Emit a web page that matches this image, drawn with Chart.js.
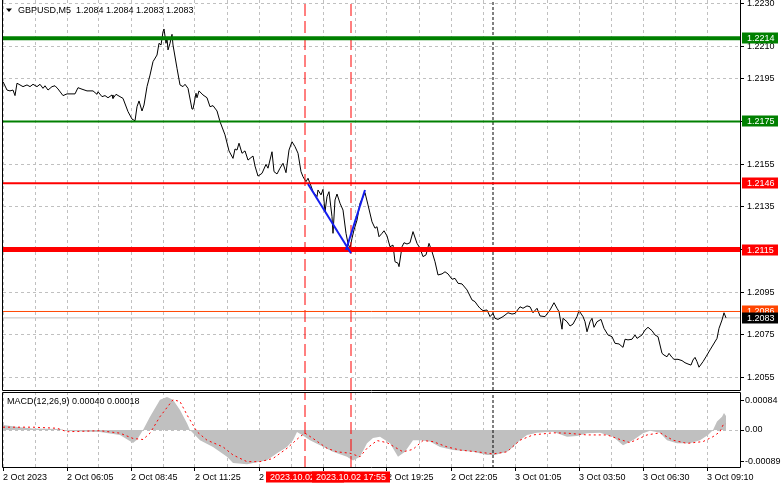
<!DOCTYPE html>
<html>
<head>
<meta charset="utf-8">
<script src="https://cdn.jsdelivr.net/npm/chart.js@4.4.0/dist/chart.umd.min.js"></script>
<style>
  body { margin: 0; background: #fff; }
  #wrap { position: relative; width: 781px; height: 489px; background: #fff; }
  canvas { position: absolute; left: 0; }
  #priceChart { top: 0; }
  #macdChart { top: 391px; }
</style>
</head>
<body>
<div id="wrap">
  <canvas id="priceChart" width="781" height="391"></canvas>
  <canvas id="macdChart" width="781" height="98"></canvas>
</div>
<script>
// GBPUSD M5, bar index from the left edge of the chart (2 Oct 2023 ...)
const priceBars = [
  0, 2, 3.5, 5, 6, 7, 8.5, 10, 12, 13.5,
  15, 17, 18.5, 20, 21, 22.5, 24.5, 26, 27.5, 30,
  32, 36, 37.5, 39.5, 42, 45, 47, 47.5, 49.5, 51,
  52.5, 54.5, 55, 56.5, 58.5, 60, 62.5, 64.5, 66, 67,
  68, 69.5, 70.5, 72, 73.5, 75, 77, 78, 79, 80,
  80.5, 81.5, 82, 82.5, 83.5, 84.5, 85, 87, 88.5, 90,
  91, 92.5, 94.5, 95, 96.5, 97, 98, 100, 102, 103.5,
  105, 107, 108.5, 111, 113, 115, 116, 117, 118, 119.5,
  121, 122.5, 123.5, 125, 126, 127.5, 129.5, 131.5, 132.5, 134.5,
  135.5, 137, 138.5, 140, 141.5, 143, 144.5, 146, 147.5, 149,
  150, 151.5, 152.5, 154, 155, 157, 157.5, 159, 160, 161,
  162, 163, 164.5, 165, 166, 167, 168.5, 170, 171.5, 172.5,
  173.5, 174.5, 175.5, 177, 178.5, 181, 182.5, 184.5, 186, 187,
  188, 189.5, 190.5, 192, 193.5, 195, 196, 197.5, 198, 199.5,
  200.5, 202, 203.5, 205, 207, 208.5, 210, 211.5, 213, 214.5,
  216, 217.5, 219.5, 221, 222.5, 224.5, 226, 227.5, 229.5, 232,
  234.5, 236, 237.5, 238.5, 240, 242, 243.5, 245, 246, 247.5,
  250, 252.5, 254.5, 256, 258.5, 260, 262, 263.5, 265, 267,
  268.5, 271, 273.5, 275.5, 277, 278, 279.5, 280, 282, 283.5,
  285, 287, 288, 290, 291, 292, 293.5, 294.5, 295.5, 297,
  299, 300.5, 302.5, 304.5, 306, 308, 310, 311, 312.5, 314.5,
  316, 317, 319.5, 321, 322.5, 324.5, 326, 327.5, 329.5, 330.5,
  332, 333, 334.5, 335.5, 337.5, 339.5, 341, 342.5, 344, 345,
  346, 347, 348, 350, 351.5, 353.5, 355, 357, 358, 359.5,
  360.5, 361.5
];
const priceCloses = [
  1.21936, 1.21897, 1.21893, 1.21897, 1.21871, 1.21929, 1.21921, 1.21913, 1.21921, 1.21913,
  1.21924, 1.21913, 1.21924, 1.21905, 1.21917, 1.21897, 1.21913, 1.21917, 1.21902, 1.21871,
  1.21879, 1.21879, 1.21908, 1.21901, 1.21893, 1.21893, 1.21877, 1.21889, 1.21866, 1.21871,
  1.21861, 1.21874, 1.21858, 1.21877, 1.21866, 1.21858, 1.21796, 1.21761, 1.21753, 1.21819,
  1.21846, 1.21799, 1.21827, 1.21913, 1.21967, 1.22030, 1.22061, 1.22116, 1.22108, 1.22170,
  1.22183, 1.22116, 1.22139, 1.22085, 1.22116, 1.22158, 1.22108, 1.21999, 1.21921, 1.21913,
  1.21924, 1.21905, 1.21808, 1.21808, 1.21882, 1.21861, 1.21893, 1.21874, 1.21861, 1.21819,
  1.21824, 1.21799, 1.21749, 1.21687, 1.21612, 1.21577, 1.21621, 1.21616, 1.21648, 1.21601,
  1.21612, 1.21569, 1.21577, 1.21588, 1.21541, 1.21494, 1.21507, 1.21549, 1.21531, 1.21608,
  1.21515, 1.21504, 1.21531, 1.21554, 1.21510, 1.21616, 1.21655, 1.21632, 1.21601, 1.21515,
  1.21491, 1.21468, 1.21484, 1.21448, 1.21421, 1.21398, 1.21429, 1.21406, 1.21432, 1.21327,
  1.21398, 1.21421, 1.21304, 1.21226, 1.21382, 1.21410, 1.21367, 1.21335, 1.21226, 1.21179,
  1.21156, 1.21203, 1.21242, 1.21288, 1.21367, 1.21416, 1.21359, 1.21280, 1.21250, 1.21257,
  1.21210, 1.21226, 1.21238, 1.21214, 1.21163, 1.21171, 1.21093, 1.21086, 1.21070, 1.21163,
  1.21182, 1.21176, 1.21182, 1.21234, 1.21179, 1.21156, 1.21117, 1.21125, 1.21179, 1.21140,
  1.21093, 1.21031, 1.21036, 1.21046, 1.21036, 1.21011, 1.21015, 1.20992, 1.20989, 1.20961,
  1.20914, 1.20906, 1.20886, 1.20875, 1.20864, 1.20867, 1.20836, 1.20851, 1.20828, 1.20823,
  1.20836, 1.20854, 1.20848, 1.20851, 1.20882, 1.20875, 1.20886, 1.20882, 1.20854, 1.20875,
  1.20839, 1.20836, 1.20867, 1.20901, 1.20875, 1.20859, 1.20777, 1.20828, 1.20812, 1.20792,
  1.20801, 1.20836, 1.20864, 1.20836, 1.20812, 1.20765, 1.20812, 1.20828, 1.20786, 1.20812,
  1.20823, 1.20781, 1.20750, 1.20742, 1.20711, 1.20708, 1.20692, 1.20730, 1.20727, 1.20730,
  1.20750, 1.20734, 1.20750, 1.20773, 1.20786, 1.20770, 1.20750, 1.20742, 1.20664, 1.20656,
  1.20648, 1.20664, 1.20645, 1.20636, 1.20636, 1.20630, 1.20620, 1.20614, 1.20609, 1.20633,
  1.20645, 1.20625, 1.20599, 1.20625, 1.20648, 1.20680, 1.20703, 1.20734, 1.20781, 1.20820,
  1.20854, 1.20830
];

// MACD(12,26,9): histogram (main) and signal line
const macdBars = [
  0, 8.5, 15, 28.5, 32, 48.5, 58.5, 65, 67, 70,
  73.5, 78.5, 82, 85, 88.5, 92, 93.5, 98.5, 105, 112,
  115, 122, 132, 137, 142, 145, 147, 149.5, 153.5, 158.5,
  165, 172, 175, 178.5, 182, 185, 188.5, 193.5, 197.5, 201,
  205, 208.5, 213.5, 218.5, 225, 235, 242, 246, 252, 255,
  258.5, 262, 267, 275, 282, 287, 292, 298.5, 305, 310,
  315, 320, 323.5, 328.5, 332, 337, 343.5, 348.5, 352.5, 355,
  357, 359.5, 360.5, 361.5
];
const macdValues = [
  0.00014, 0.00008, 0.00004, 0.00003, -0.00003, -0.00006, -0.00014, -0.00037, -0.00028, 0,
  0.00038, 0.00086, 0.00094, 0.00086, 0.00057, 0.00019, 0, -0.00029, -0.00048, -0.00076,
  -0.00094, -0.00097, -0.00086, -0.00066, -0.00048, -0.00029, -0.00006, -0.00014, -0.00029, -0.00043,
  -0.00062, -0.00076, -0.00087, -0.00076, -0.00038, -0.00023, -0.00019, -0.00038, -0.00076, -0.00062,
  -0.00029, -0.00029, -0.00033, -0.00048, -0.00057, -0.00062, -0.00071, -0.00071, -0.00062, -0.00048,
  -0.00029, -0.00014, -0.00008, -0.00005, -0.00019, -0.00017, -0.00009, -0.00008, -0.00019, -0.00043,
  -0.00029, -0.00009, -0.00002, -0.00008, -0.00029, -0.00038, -0.00038, -0.00029, -0.00014, 0,
  0.00024, 0.00038, 0.00048, 0.00040
];
const signalBars = [
  0, 15, 27, 32, 48.5, 58.5, 65, 70, 73.5, 78.5,
  85, 88.5, 92, 97, 102, 110, 115, 122, 128.5, 135,
  142, 148.5, 151, 155, 162, 167, 173.5, 178.5, 182, 187,
  192, 200, 205, 210, 215, 222, 228.5, 237, 245, 252,
  258.5, 265, 275, 282, 292, 302, 308.5, 313.5, 322, 328.5,
  335, 342, 350, 355, 358.5, 360, 361.5
];
const signalValues = [
  0.00008, 0.00008, 0.00005, -0.00005, -0.00002, -0.00009, -0.00024, -0.00027, -0.00009, 0.00038,
  0.00086, 0.00081, 0.00043, -0.00005, -0.00029, -0.00048, -0.00071, -0.00090, -0.00090, -0.00081,
  -0.00052, -0.00019, -0.00009, -0.00024, -0.00052, -0.00062, -0.00066, -0.00076, -0.00052, -0.00030,
  -0.00036, -0.00062, -0.00055, -0.00030, -0.00033, -0.00048, -0.00057, -0.00062, -0.00068, -0.00062,
  -0.00029, -0.00014, -0.00008, -0.00009, -0.00014, -0.00014, -0.00027, -0.00036, -0.00014, -0.00008,
  -0.00029, -0.00038, -0.00033, -0.00019, -0.00005, 0.00014, 0.00018
];

// horizontal levels, last one is the current bid
const levelPrices = [1.2214, 1.2175, 1.2146, 1.2115, 1.2086, 1.2083];
// vertical lines (bar index) and their date labels
const markerBars = [151, 174];
const markerLabels = ['2023.10.02 16:00', '2023.10.02 17:55'];
const cursorBar = 245;
// drawn trend lines
const trendBarsA = [152.5, 174];
const trendPricesA = [1.21457, 1.21133];
const trendBarsB = [171.5, 181];
const trendPricesB = [1.21148, 1.21429];

// axes
const timeLabels = ['2 Oct 2023', '2 Oct 06:05', '2 Oct 08:45', '2 Oct 11:25', '2 Oct 14:05', '2 Oct 16:45',
  '2 Oct 19:25', '2 Oct 22:05', '3 Oct 01:05', '3 Oct 03:50', '3 Oct 06:30', '3 Oct 09:10'];
const priceTicks = [1.2230, 1.2210, 1.2195, 1.2175, 1.2155, 1.2135, 1.2115, 1.2095, 1.2075, 1.2055];
const macdTicks = [0.00084, 0, -0.00089];
const headerText = 'GBPUSD,M5  1.2084 1.2084 1.2083 1.2083';
const macdHeader = 'MACD(12,26,9) 0.00040 0.00018';

const barMax = 368.5;
const priceMin = 1.204923, priceMax = 1.223187;
const macdMin = -0.00108, macdMax = 0.00108;

const levelColors = ['#008000', '#008000', '#ff0000', '#ff0000', '#ff4500', '#c0c0c0'];
const levelWidths = [4, 2, 2, 5, 1, 1];
const levelBoxColors = ['#008000', '#008000', '#ff0000', '#ff0000', '#ff4500', '#000000'];

const FONT = '"Liberation Sans", Arial, sans-serif';
Chart.defaults.font.family = FONT;
Chart.defaults.font.size = 9;
Chart.defaults.color = '#000';

const gridBars = [];
for (let b = 0; b <= 352; b += 16) gridBars.push(b);

function pts(xs, ys) {
  return xs.map((x, i) => ({ x: x, y: ys[i] }));
}
function vline(bar, lo, hi) {
  return [{ x: bar, y: lo }, { x: bar, y: hi }];
}
// scales keep the chart area exactly where the terminal has it
function noPad(s) {
  s.paddingTop = 0; s.paddingBottom = 0; s.paddingLeft = 0; s.paddingRight = 0;
}

// ---------- price chart ----------
const datasets = [];
datasets.push({
  data: pts(priceBars, priceCloses),
  borderColor: '#000', borderWidth: 1, pointRadius: 0, tension: 0, order: 5
});
levelPrices.forEach(function (p, i) {
  datasets.push({
    data: [{ x: 0, y: p }, { x: barMax, y: p }],
    borderColor: levelColors[i], borderWidth: levelWidths[i], pointRadius: 0,
    order: i == levelPrices.length - 1 ? 6 : 2
  });
});
markerBars.forEach(function (b) {
  datasets.push({
    data: vline(b, priceMin, priceMax),
    borderColor: '#ff0000', borderWidth: 1, borderDash: [12, 5], pointRadius: 0, order: 3
  });
});
datasets.push({
  data: vline(cursorBar, priceMin, priceMax),
  borderColor: '#000', borderWidth: 1, borderDash: [3, 2], pointRadius: 0, order: 3
});
datasets.push({
  data: pts(trendBarsA, trendPricesA),
  borderColor: 'rgb(20,30,240)', borderWidth: 2, pointRadius: 0, order: 0
});
datasets.push({
  data: pts(trendBarsB, trendPricesB),
  borderColor: 'rgb(20,30,240)', borderWidth: 2, pointRadius: 0, order: 0
});

const priceDecor = {
  id: 'priceDecor',
  afterDraw(chart) {
    const ctx = chart.ctx, a = chart.chartArea, y = chart.scales.y;
    ctx.save();
    ctx.strokeStyle = '#000';
    ctx.lineWidth = 1;
    ctx.beginPath();
    ctx.moveTo(a.left - 0.5, a.top);
    ctx.lineTo(a.left - 0.5, a.bottom + 0.5);
    ctx.lineTo(a.right + 0.5, a.bottom + 0.5);
    ctx.lineTo(a.right + 0.5, a.top);
    ctx.stroke();

    // header
    ctx.fillStyle = '#000';
    ctx.beginPath();
    ctx.moveTo(6, 8.5); ctx.lineTo(12, 8.5); ctx.lineTo(9, 12);
    ctx.closePath();
    ctx.fill();
    ctx.font = '9px ' + FONT;
    ctx.textBaseline = 'middle';
    ctx.textAlign = 'left';
    ctx.fillText(headerText, 18, 10.5);

    // price tags on the right axis
    levelPrices.forEach(function (p, i) {
      const py = Math.round(y.getPixelForValue(p));
      ctx.fillStyle = levelBoxColors[i];
      ctx.fillRect(a.right + 2, py - 5.5, 36, 11);
      ctx.fillStyle = '#fff';
      ctx.fillText(p.toFixed(4), a.right + 7, py + 0.5);
    });
    ctx.restore();
  }
};

new Chart(document.getElementById('priceChart'), {
  type: 'line',
  data: { datasets: datasets },
  options: {
    responsive: false,
    animation: false,
    events: [],
    layout: { padding: { left: 3, top: 0, right: 0, bottom: 0 }, autoPadding: false },
    plugins: { legend: { display: false }, tooltip: { enabled: false } },
    scales: {
      x: {
        type: 'linear', min: 0, max: barMax,
        afterBuildTicks: function (s) { s.ticks = gridBars.map(v => ({ value: v })); },
        afterFit: function (s) { s.height = 1; noPad(s); },
        ticks: { display: false },
        grid: { color: '#c0c0c0', drawTicks: false },
        border: { display: false, dash: [3, 3] }
      },
      y: {
        position: 'right', min: priceMin, max: priceMax,
        afterBuildTicks: function (s) { s.ticks = priceTicks.map(v => ({ value: v })); },
        afterFit: function (s) { s.width = 41; noPad(s); },
        ticks: { padding: 3, callback: v => v.toFixed(4), autoSkip: false },
        grid: { color: '#c0c0c0', tickLength: 4, tickColor: '#000' },
        border: { display: false, dash: [3, 3] }
      }
    }
  },
  plugins: [priceDecor]
});

// ---------- MACD chart ----------
const macdSets = [
  {
    data: pts(macdBars, macdValues),
    borderWidth: 0, borderColor: 'rgba(0,0,0,0)', backgroundColor: '#c0c0c0',
    fill: 'origin', pointRadius: 0, tension: 0, order: 5
  },
  {
    data: pts(signalBars, signalValues),
    borderColor: '#ff0000', borderWidth: 1, borderDash: [2, 3], pointRadius: 0, tension: 0, order: 1
  }
];
markerBars.forEach(function (b) {
  macdSets.push({
    data: vline(b, macdMin, macdMax),
    borderColor: '#ff0000', borderWidth: 1, borderDash: [12, 5], pointRadius: 0, order: 2
  });
});
macdSets.push({
  data: vline(cursorBar, macdMin, macdMax),
  borderColor: '#000', borderWidth: 1, borderDash: [3, 2], pointRadius: 0, order: 2
});

const macdDecor = {
  id: 'macdDecor',
  afterDraw(chart) {
    const ctx = chart.ctx, a = chart.chartArea, x = chart.scales.x;
    ctx.save();
    ctx.strokeStyle = '#000';
    ctx.lineWidth = 1;
    ctx.beginPath();
    ctx.moveTo(a.left - 0.5, a.top + 0.5);
    ctx.lineTo(a.right + 0.5, a.top + 0.5);
    ctx.lineTo(a.right + 0.5, a.bottom - 0.5);
    ctx.lineTo(a.left - 0.5, a.bottom - 0.5);
    ctx.closePath();
    ctx.stroke();

    ctx.font = '9px ' + FONT;
    ctx.textBaseline = 'middle';
    ctx.textAlign = 'left';
    ctx.fillStyle = '#000';
    ctx.fillText(macdHeader, 7, 10.5);

    // date tags of the vertical lines
    ctx.textAlign = 'center';
    markerBars.forEach(function (b, i) {
      const px = Math.round(x.getPixelForValue(b));
      const w = Math.ceil(ctx.measureText(markerLabels[i]).width) + 7;
      ctx.fillStyle = '#ff0000';
      ctx.fillRect(px - w / 2, 80.5, w, 11);
      ctx.fillStyle = '#fff';
      ctx.fillText(markerLabels[i], px, 86.5);
    });
    ctx.restore();
  }
};

new Chart(document.getElementById('macdChart'), {
  type: 'line',
  data: { datasets: macdSets },
  options: {
    responsive: false,
    animation: false,
    events: [],
    layout: { padding: { left: 3, top: 1, right: 0, bottom: 0 }, autoPadding: false },
    plugins: { legend: { display: false }, tooltip: { enabled: false } },
    scales: {
      x: {
        type: 'linear', min: 0, max: barMax,
        afterBuildTicks: function (s) { s.ticks = gridBars.map(v => ({ value: v })); },
        afterFit: function (s) { s.height = 21; noPad(s); },
        ticks: {
          align: 'start', padding: 1, autoSkip: false, maxRotation: 0, minRotation: 0,
          callback: v => (v % 32 === 0 ? timeLabels[v / 32] : '')
        },
        grid: {
          color: '#c0c0c0', tickLength: 3,
          tickColor: c => (c.tick && c.tick.value % 32 === 0 ? '#000' : 'rgba(0,0,0,0)')
        },
        border: { display: false, dash: [3, 3] }
      },
      y: {
        position: 'right', min: macdMin, max: macdMax,
        afterBuildTicks: function (s) { s.ticks = macdTicks.map(v => ({ value: v })); },
        afterFit: function (s) { s.width = 41; noPad(s); },
        ticks: { padding: 1, autoSkip: false, callback: v => (v === 0 ? '0.00' : v.toFixed(5)) },
        grid: {
          tickLength: 4, tickColor: '#000',
          color: c => (c.tick && c.tick.value === 0 ? '#c0c0c0' : 'rgba(0,0,0,0)')
        },
        border: { display: false, dash: [3, 3] }
      }
    }
  },
  plugins: [macdDecor]
});
</script>
</body>
</html>
